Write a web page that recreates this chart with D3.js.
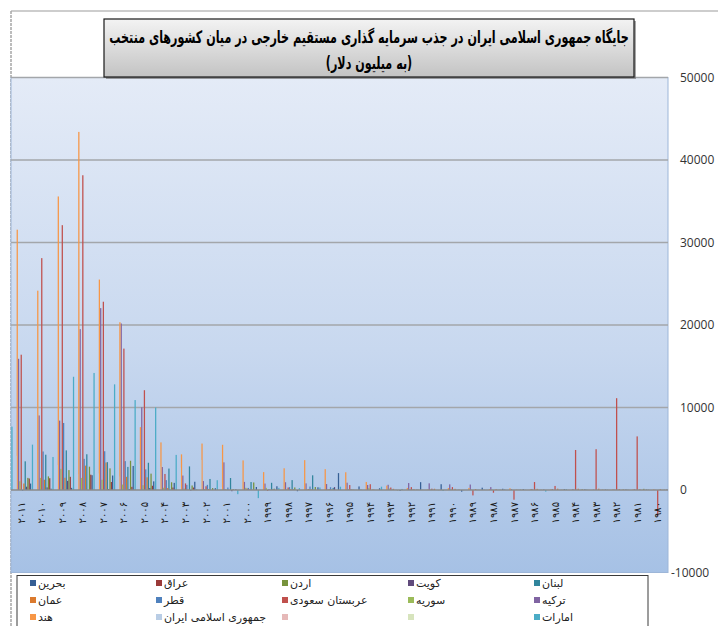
<!DOCTYPE html>
<html>
<head>
<meta charset="utf-8" />
<title>FDI selected countries</title>
<script src="https://cdn.jsdelivr.net/npm/d3@7"></script>
<style>
    body { margin: 0; background: #fff; }
    #chart svg { display: block; }
    .fa { font-family: "DejaVu Sans", sans-serif; }
    .yaxis text { font-family: "Open Sans", sans-serif; font-size: 12px; fill: #333; }
</style>
</head>
<body>
<div id="chart"></div>
<script>
    // categories, left to right (2011 ... 1980)
    var years = d3.range(2011, 1979, -1)

    // values in million USD, same order as years
    var bahrain = [781, 156, 257, 1794, 1756, 2915, 1049, 865, 1000, 217, 80, 364, 454, -150, 329, 2048, 431, 208, -100, 950, 700, -200, 280, 150, 100, 50, 100, 80, 50, 60, 50, 50]
    var iraq = [1396, 1426, 1598, 1856, 972, 383, 515, 300, 300, 0, 0, 0, -7, 7, 0, 1, 2, 0, 0, 3, -3, 0, 0, 5, 0, 0, 5, 0, 0, 5, 0, 0]
    var jordan = [1469, 1651, 2413, 2826, 2622, 3544, 1984, 937, 547, 238, 100, 913, 158, 310, 361, 16, 13, 3, -34, 41, -12, 38, -1, 24, 40, 23, 25, 79, 33, 64, 141, 34]
    var kuwait = [399, 319, 1114, -6, 112, 121, 234, 24, -67, 4, -147, 16, 72, 59, 20, 347, 7, 1, 13, 35, 0, 6, 5, 5, 10, 5, 5, 5, 5, 5, 5, 5]
    var lebanon = [3476, 4280, 4804, 4333, 3376, 2800, 3300, 2600, 2860, 1336, 1451, 964, 872, 1200, 1780, 250, 35, 23, 7, 5, 2, 6, 5, 5, 10, 5, 10, 5, 5, 5, 5, 5]
    var oman = [788, 1243, 1485, 2952, 3332, 1596, 1538, 229, 26, 122, 5, 83, 39, 101, 65, 60, 46, 76, 142, 104, 149, 142, 112, 91, 34, 140, 161, 157, 161, 111, 97, 98]
    var qatar = [-87, 4670, 8125, 3779, 4700, 3500, 2500, 1199, 625, 624, 296, 252, 113, 347, 418, 339, 94, 0, 72, 50, 50, 5, 10, -5, 10, 5, 5, 10, 5, 5, 5, 5]
    var saudi = [16400, 28105, 32100, 38151, 22821, 17140, 12097, 1942, 800, 450, 20, 183, -100, 300, 100, 100, 600, 700, 300, 350, 160, 350, -654, -328, -1175, 967, 491, 4850, 4944, 11128, 6498, -3192]
    var syria = [1059, 1469, 2570, 1466, 1242, 659, 583, 275, 180, 115, 110, 270, 263, 82, 80, 89, 100, 251, 176, 67, 62, 71, 40, 30, 20, 10, 15, 10, 5, 5, 10, 0]
    var turkey = [15904, 9036, 8411, 19504, 22047, 20185, 10031, 2785, 1752, 1082, 3352, 982, 783, 940, 805, 722, 885, 608, 636, 844, 810, 684, 663, 354, 106, 125, 99, 113, 46, 55, 95, 18]
    var india = [31554, 24159, 35581, 43406, 25506, 20336, 7622, 5771, 4321, 5630, 5478, 3588, 2168, 2633, 3619, 2525, 2151, 974, 532, 252, 75, 237, 252, 91, 212, 118, 106, 19, 6, 72, 92, 79]
    var iran = [4150, 3648, 3016, 1909, 2005, 1647, 3136, 2863, 2698, 3648, 360, 39, 35, 24, 53, 26, 17, 2, -50, -170, 23, -362, -19, 61, -50, -38, -38, -120, 50, -50, -100, -100]
    var blankA = []
    var blankB = []
    var uae = [7679, 5500, 4003, 13724, 14187, 12806, 10900, 10004, 4256, 95, 1184, -506, -985, 258, 232, 301, 399, 79, 400, 129, 25, -116, -30, 50, 90, 30, -200, 120, 50, 40, 40, 50]

    // series in legend order (drawn right to left inside each group)
    var seriesNames = ["بحرین", "عراق", "اردن", "کویت", "لبنان", "عمان", "قطر", "عربستان سعودی", "سوریه", "ترکیه", "هند", "جمهوری اسلامی ایران", "", "", "امارات"]
    var seriesValues = [bahrain, iraq, jordan, kuwait, lebanon, oman, qatar, saudi, syria, turkey, india, iran, blankA, blankB, uae]
    var seriesColors = ["#365F94", "#9A3A38", "#77933C", "#604A7B", "#31859C", "#DB7A2E", "#4F81BD", "#C0504D", "#9BBB59", "#8064A2", "#F79646", "#B9CDE5", "#E6B9B8", "#D7E4BD", "#4BACC6"]

    var yTicks = [-10000, 0, 10000, 20000, 30000, 40000, 50000]
    var titleLines = ["جایگاه جمهوری اسلامی ایران در جذب سرمایه گذاری مستقیم خارجی در میان کشورهای منتخب", "(به میلیون دلار)"]

    var width = 718, height = 626
    var plot = { left: 11, right: 668, top: 77.5, bottom: 572.5 }

    var toPersian = function(s) {
        return String(s).replace(/[0-9]/g, function(c) { return "۰۱۲۳۴۵۶۷۸۹"[+c] })
    }

    var svg = d3.select("#chart").append("svg")
        .attr("width", width)
        .attr("height", height)

    var defs = svg.append("defs")
    var bg = defs.append("linearGradient").attr("id", "plotBg")
        .attr("x1", 0).attr("y1", 0).attr("x2", 0).attr("y2", 1)
    bg.append("stop").attr("offset", "0%").attr("stop-color", "#E4EBF7")
    bg.append("stop").attr("offset", "55%").attr("stop-color", "#C8D8EF")
    bg.append("stop").attr("offset", "100%").attr("stop-color", "#A6C1E5")
    var tg = defs.append("linearGradient").attr("id", "titleBg")
        .attr("x1", 0).attr("y1", 0).attr("x2", 0).attr("y2", 1)
    tg.append("stop").attr("offset", "0%").attr("stop-color", "#F3F3F3")
    tg.append("stop").attr("offset", "100%").attr("stop-color", "#C3C3C3")

    // scales
    var x0 = d3.scaleBand()
        .domain(years)
        .range([plot.left, plot.right])
        .paddingInner(0.03)
        .paddingOuter(0.015)

    var x1 = d3.scaleBand()
        .domain(d3.range(seriesNames.length).reverse())
        .range([0, x0.bandwidth()])

    var y = d3.scaleLinear()
        .domain([-10000, 50000])
        .range([plot.bottom, plot.top])

    // chart area border
    svg.append("line")
        .attr("x1", 11).attr("x2", width).attr("y1", 11).attr("y2", 11)
        .attr("stroke", "#BDBDBD").attr("stroke-width", 1.5)
    svg.append("line")
        .attr("x1", 11).attr("x2", 11).attr("y1", 11).attr("y2", height)
        .attr("stroke", "#A6A6A6").attr("stroke-width", 1.5)
        .attr("stroke-dasharray", "3,1")

    // plot area
    svg.append("rect")
        .attr("x", plot.left).attr("y", plot.top)
        .attr("width", plot.right - plot.left)
        .attr("height", plot.bottom - plot.top)
        .attr("fill", "url(#plotBg)")
        .attr("stroke", "#9DB6D8").attr("stroke-width", 1)

    // gridlines
    svg.append("g").selectAll("line")
        .data(yTicks.filter(function(d) { return d > 0 }))
        .join("line")
        .attr("x1", plot.left).attr("x2", plot.right)
        .attr("y1", function(d) { return y(d) })
        .attr("y2", function(d) { return y(d) })
        .attr("stroke", "#A3A6AA").attr("stroke-width", 1.6)

    // bars
    var groups = svg.append("g").selectAll("g")
        .data(seriesValues)
        .join("g")
        .attr("fill", function(d, i) { return seriesColors[i] })

    groups.selectAll("rect")
        .data(function(vals, si) {
            return vals.map(function(v, k) { return { s: si, year: years[k], value: v } })
        })
        .join("rect")
        .attr("x", function(d) { return x0(d.year) + x1(d.s) })
        .attr("width", x1.bandwidth() * 0.95)
        .attr("y", function(d) { return y(Math.max(0, d.value)) })
        .attr("height", function(d) { return Math.abs(y(d.value) - y(0)) })

    // zero axis
    svg.append("line")
        .attr("x1", plot.left).attr("x2", plot.right)
        .attr("y1", y(0)).attr("y2", y(0))
        .attr("stroke", "#8A8A8A").attr("stroke-width", 1.5)

    // category labels
    svg.append("g").selectAll("text")
        .data(years)
        .join("text")
        .attr("class", "fa")
        .attr("transform", function(d) {
            return "translate(" + (x0(d) + x0.bandwidth() / 2) + "," + (y(0) + 12) + ") rotate(-90)"
        })
        .attr("text-anchor", "end")
        .attr("dominant-baseline", "central")
        .attr("font-size", 10)
        .attr("fill", "#1a1a1a")
        .text(function(d) { return toPersian(d) })

    // value axis on the right
    var yAxis = svg.append("g")
        .attr("class", "yaxis")
        .attr("transform", "translate(" + plot.right + ",0)")
        .call(d3.axisRight(y).tickValues(yTicks).tickSize(0).tickPadding(12)
            .tickFormat(function(d) { return String(d) }))
    yAxis.select(".domain").remove()
    yAxis.selectAll("text").attr("dx", function(d) { return d < 0 ? -9 : 0 })

    // title box
    var tb = { x: 104, y: 19, w: 530, h: 58 }
    svg.append("rect")
        .attr("x", tb.x + 2).attr("y", tb.y + 2)
        .attr("width", tb.w).attr("height", tb.h)
        .attr("fill", "#6d6d6d").attr("opacity", 0.6)
    svg.append("rect")
        .attr("x", tb.x).attr("y", tb.y)
        .attr("width", tb.w).attr("height", tb.h)
        .attr("fill", "url(#titleBg)")
        .attr("stroke", "#1a1a1a").attr("stroke-width", 1.2)

    // both title lines share one horizontal squeeze so line 1 fits the box
    var titleG = svg.append("g")
    var titleText = titleG.selectAll("text")
        .data(titleLines)
        .join("text")
        .attr("class", "fa")
        .attr("x", 0)
        .attr("y", function(d, i) { return 37 + i * 26 })
        .attr("text-anchor", "middle")
        .attr("dominant-baseline", "central")
        .attr("font-weight", "bold")
        .attr("font-size", 17)
        .attr("fill", "#000")
        .text(function(d) { return d })
    var len = titleText.node().getComputedTextLength()
    titleG.attr("transform", "translate(" + (tb.x + tb.w / 2) + ",0) scale(" + (520 / len) + ",1)")

    // legend
    var lg = svg.append("g")
    lg.append("rect")
        .attr("x", 17).attr("y", 575.5)
        .attr("width", 631).attr("height", 60)
        .attr("fill", "#fff")
        .attr("stroke", "#3a3a3a").attr("stroke-width", 1)

    var items = lg.selectAll("g.item")
        .data(seriesNames)
        .join("g")
        .attr("class", "item")
        .attr("transform", function(d, i) {
            return "translate(" + (30 + (i % 5) * 126) + "," + (583 + Math.floor(i / 5) * 17) + ")"
        })
    items.append("rect")
        .attr("x", 0).attr("y", -3)
        .attr("width", 6).attr("height", 6)
        .attr("fill", function(d, i) { return seriesColors[i] })
    items.append("text")
        .attr("class", "fa")
        .attr("x", 8)
        .attr("dominant-baseline", "central")
        .attr("font-size", 11)
        .attr("fill", "#222")
        .text(function(d) { return d })
</script>
</body>
</html>
